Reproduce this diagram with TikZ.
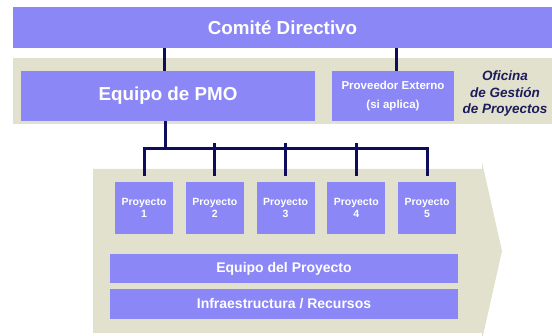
\documentclass[tikz,border=0pt]{standalone}
\usepackage{fontspec}
\setmainfont{Liberation Sans}
\usepackage{tikz}
\usetikzlibrary{arrows.meta,positioning,calc}
\usepackage{xcolor}
\definecolor{Lila}{HTML}{8B87F7}
\definecolor{Arena}{HTML}{E2E1CD}
\definecolor{Marino}{HTML}{0D0D5C}
\definecolor{TextoOf}{HTML}{1C1C5C}
\tikzset{
 caja/.style={fill=Lila, draw=none, inner sep=0pt, align=center, text=white, font=\bfseries},
 proycaja/.style={caja, minimum width=58, minimum height=52, font=\fontsize{10.5}{12}\selectfont\bfseries},
 barra/.style={caja, minimum width=348, font=\fontsize{14}{16}\selectfont\bfseries},
 link/.style={draw=Marino, line width=3pt, line join=miter}
}

\begin{document}
\begin{tikzpicture}[x=1pt,y=-1pt]
\useasboundingbox (0,0) rectangle (552,336);
% fondos
\fill[Arena] (13,58) rectangle (552,124);
\fill[Arena] (93,169) -- (482,169) -- (482,162) -- (502,251) -- (482,340) -- (482,333) -- (93,333) -- cycle;
% nivel superior
\node[caja, minimum width=539, minimum height=41, font=\fontsize{18.8}{20}\selectfont\bfseries] (comite) at (282.5,27.5) {Comité Directivo};
\node[caja, minimum width=294, minimum height=50, font=\fontsize{18.8}{20}\selectfont\bfseries] (pmo) at (168,96) {Equipo de PMO};
\node[caja, minimum width=122, minimum height=50, font=\fontsize{11.5}{19}\selectfont\bfseries] (prov) at (393,96) {Proveedor Externo\\(si aplica)};
\node[align=center, text=TextoOf, font=\fontsize{13.5}{16.5}\selectfont\bfseries\itshape] (oficina) at (505,94) {Oficina\\de Gestión\\de Proyectos};
% proyectos
\foreach \i in {1,...,5}
 \node[proycaja] (p\i) at ({144+70.75*(\i-1)},208) {Proyecto\\\i};
\node[barra, minimum height=29] (equipo) at (284,268.5) {Equipo del Proyecto};
\node[barra, minimum height=30] (infra) at (284,304) {Infraestructura / Recursos};
% conectores
\draw[link] ([xshift=-4]pmo.north |- comite.south) -- ([xshift=-4]pmo.north);
\draw[link] ([xshift=3]prov.north |- comite.south) -- ([xshift=3]prov.north);
\coordinate (bus) at ([yshift=33]p1.north);
\draw[link] ([yshift=6]p1.north) -- (bus) -| ([yshift=6]p5.north);
\draw[link] ([xshift=-3]pmo.south) -- ([xshift=-3]pmo.south |- bus);
\foreach \i in {2,3,4}
 \draw[link] ([yshift=6]p\i.north) -- ([yshift=6]p\i.north |- bus);
\end{tikzpicture}
\end{document}
